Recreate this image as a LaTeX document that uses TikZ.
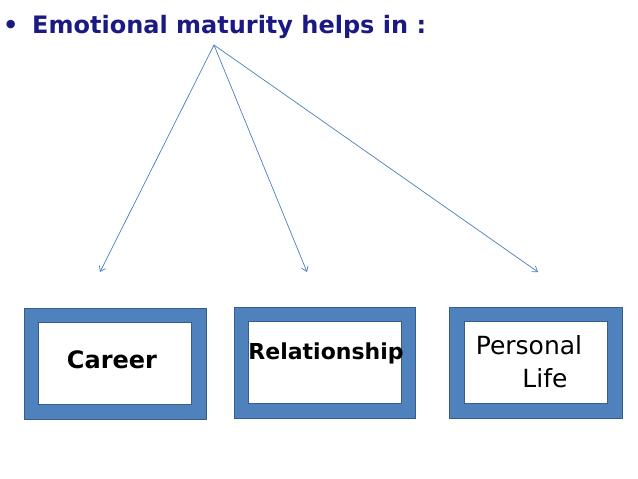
\documentclass[tikz,border=0pt]{standalone}
\usepackage{fontspec}
\setmainfont{DejaVu Sans}
\usetikzlibrary{positioning, arrows.meta}

\definecolor{navytxt}{RGB}{26,26,130}
\definecolor{boxblue}{RGB}{79,129,189}
\definecolor{boxedge}{RGB}{56,93,138}
\definecolor{arrblue}{RGB}{74,126,187}

\begin{document}
\begin{tikzpicture}[
        x=1pt, y=-1pt,
        >={Straight Barb[length=5pt, width=7pt]},
        frame/.style={draw=boxedge, fill=boxblue, line width=0.6pt,
                      minimum width=#1, minimum height=111pt, inner sep=0pt},
        pane/.style={draw=boxedge, fill=white, line width=0.5pt,
                     minimum width=#1, minimum height=82pt, inner sep=0pt},
        lbl/.style={font=\fontsize{25}{30}\selectfont, text=black, inner sep=0pt},
        blbl/.style={lbl, font=\fontsize{#1}{30}\selectfont\bfseries},
        head/.style={anchor=base west, inner sep=0pt,
                     font=\fontsize{24}{28}\selectfont\bfseries, text=navytxt},
        arr/.style={->, draw=arrblue, line width=0.7pt},
    ]
        \useasboundingbox (0,0) rectangle (638,479);

        % heading
        \node[head] (dot)  at (3,33)  {\textbullet};
        \node[head] (head) at (32,33) {Emotional maturity helps in :};
        \coordinate (top) at (214,45);

        % col 1: career
        \node[frame=182pt] (F1) at (115,363.5) {};
        \node[pane=153pt]  (P1) at (F1.center) {};
        \node[blbl=24] (career) at (112,360) {Career};

        % col 2: relationship
        \node[frame=181pt] (F2) at (324.5,362.5) {};
        \node[pane=153pt]  (P2) at (F2.center) {};
        \node[blbl=22] (rel) at (326,353) {Relationship};

        % col 3: personal life
        \node[frame=173pt] (F3) at (535.5,362.5) {};
        \node[pane=143pt]  (P3) at (F3.center) {};
        \node[lbl] (pers) at (529,345) {Personal};
        \node[lbl] (life) at (545,378) {Life};

        % arrow ends
        \coordinate (e1) at (100,272);
        \coordinate (e2) at (307,272);
        \coordinate (e3) at (538,272);

        \draw[arr] (top) -- (e1);
        \draw[arr] (top) -- (e2);
        \draw[arr] (top) -- (e3);
    \end{tikzpicture}
\end{document}
